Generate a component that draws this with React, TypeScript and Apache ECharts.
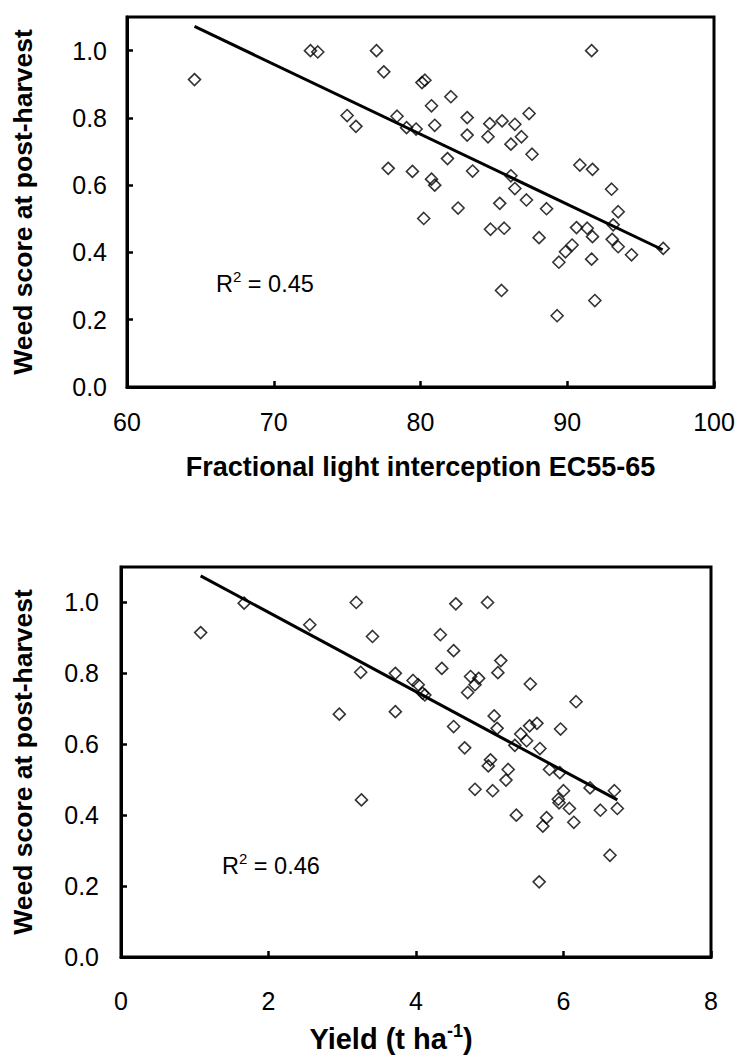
import React, { useEffect, useRef } from 'react';
import * as echarts from 'echarts';

// Top panel: fractional light interception vs weed score
const interception = [64.6, 72.5, 73.0, 77.0, 77.5, 80.1, 80.3, 80.75, 75.0, 75.6, 78.4, 79.05, 79.7, 80.97, 77.8, 79.45, 80.75, 80.97, 91.66, 82.07, 83.18, 83.18, 84.72, 84.6, 85.56, 86.43, 87.4, 86.88, 86.16, 87.6, 81.84, 83.55, 90.86, 91.72, 86.16, 86.43, 93.02, 87.22, 85.4, 82.56, 88.59, 93.47, 80.22, 84.77, 85.7, 88.08, 90.63, 91.36, 91.72, 93.13, 93.06, 93.47, 94.38, 96.54, 90.33, 89.88, 89.43, 91.66, 85.52, 91.88, 89.31];
const weedTop = [0.914, 1.0, 0.996, 1.0, 0.937, 0.905, 0.912, 0.836, 0.807, 0.775, 0.805, 0.771, 0.767, 0.778, 0.65, 0.641, 0.618, 0.6, 1.0, 0.863, 0.801, 0.749, 0.783, 0.744, 0.791, 0.781, 0.813, 0.744, 0.722, 0.692, 0.679, 0.642, 0.66, 0.647, 0.628, 0.59, 0.588, 0.556, 0.546, 0.532, 0.53, 0.521, 0.501, 0.469, 0.472, 0.444, 0.474, 0.472, 0.447, 0.482, 0.439, 0.417, 0.393, 0.412, 0.422, 0.402, 0.371, 0.38, 0.287, 0.257, 0.212];
const trendTopX = [64.6, 96.5];
const trendTopY = [1.072, 0.408];

// Bottom panel: yield vs weed score
const yieldT = [1.08, 1.67, 2.56, 3.19, 3.41, 4.33, 4.35, 3.25, 3.72, 3.96, 4.03, 4.09, 4.12, 2.96, 3.72, 4.54, 4.97, 4.51, 5.15, 5.11, 4.74, 4.85, 4.8, 4.7, 5.55, 6.17, 4.51, 5.06, 5.1, 5.54, 5.64, 5.96, 5.42, 5.5, 5.34, 5.68, 4.66, 5.01, 4.98, 5.25, 5.22, 4.8, 5.04, 5.81, 5.95, 6.0, 5.93, 5.94, 6.08, 6.36, 6.69, 6.73, 6.5, 6.14, 5.36, 5.77, 5.72, 6.63, 5.67, 3.26];
const weedBottom = [0.915, 0.998, 0.937, 1.0, 0.904, 0.909, 0.814, 0.803, 0.8, 0.78, 0.768, 0.744, 0.739, 0.685, 0.692, 0.996, 1.0, 0.864, 0.836, 0.802, 0.791, 0.786, 0.768, 0.746, 0.77, 0.72, 0.65, 0.68, 0.645, 0.652, 0.659, 0.643, 0.629, 0.61, 0.597, 0.588, 0.59, 0.556, 0.539, 0.529, 0.499, 0.473, 0.469, 0.529, 0.52, 0.469, 0.445, 0.435, 0.419, 0.477, 0.469, 0.419, 0.414, 0.38, 0.4, 0.393, 0.369, 0.287, 0.212, 0.443];
const trendBotX = [1.08, 6.73];
const trendBotY = [1.075, 0.443];

const r2Top = '0.45';
const r2Bottom = '0.46';

const FONT = '"Liberation Sans", Arial, Helvetica, sans-serif';

const zip = (xs: number[], ys: number[]) => xs.map((x, i) => [x, ys[i]]);

export default function App() {
  const ref = useRef<HTMLDivElement>(null);
  useEffect(() => {
    if (!ref.current) return;
    const chart = echarts.init(ref.current, null, { renderer: 'svg' });

    const yAxisBase = (gridIndex: number, gap: number, margin: number) => ({
      type: 'value',
      gridIndex,
      min: 0,
      max: 1.1,
      interval: 0.2,
      name: 'Weed score at post-harvest',
      nameLocation: 'middle',
      nameGap: gap,
      nameTextStyle: { fontFamily: FONT, fontWeight: 'bold', fontSize: 26.5, color: '#000' },
      axisLine: { show: true, lineStyle: { color: '#000', width: 3 } },
      axisTick: { show: true, inside: true, length: 6, lineStyle: { color: '#000', width: 2.5 } },
      axisLabel: {
        margin,
        fontFamily: FONT,
        fontSize: 25,
        color: '#000',
        showMaxLabel: false,
        formatter: (v: number) => (v > 1.05 ? '' : v.toFixed(1)),
      },
      splitLine: { show: false },
    });

    const xAxisBase = (gridIndex: number, min: number, max: number, interval: number, margin: number) => ({
      type: 'value',
      gridIndex,
      min,
      max,
      interval,
      axisLine: { show: true, onZero: false, lineStyle: { color: '#000', width: 3 } },
      axisTick: { show: true, inside: true, length: 6, lineStyle: { color: '#000', width: 2.5 } },
      axisLabel: { margin, fontFamily: FONT, fontSize: 25, color: '#000' },
      splitLine: { show: false },
    });

    const scatterStyle = {
      type: 'scatter',
      symbol: 'diamond',
      symbolSize: 12,
      itemStyle: { color: 'rgba(0,0,0,0)', borderColor: '#000', borderWidth: 1.6 },
      z: 3,
    };
    const lineStyle = {
      type: 'line',
      symbol: 'none',
      lineStyle: { color: '#000', width: 3 },
      z: 2,
    };

    const r2Rich = {
      m: { fontFamily: FONT, fontSize: 23.5, fill: '#000', lineHeight: 30 },
      s: { fontFamily: FONT, fontSize: 15, fill: '#000', lineHeight: 16, verticalAlign: 'top' },
    };

    chart.setOption({
      animation: false,
      backgroundColor: '#fff',
      grid: [
        { left: 127, top: 17, width: 587, height: 370, show: true, borderColor: '#000', borderWidth: 3, backgroundColor: 'transparent' },
        { left: 121, top: 567, width: 590, height: 390, show: true, borderColor: '#000', borderWidth: 3, backgroundColor: 'transparent' },
      ],
      xAxis: [
        {
          ...xAxisBase(0, 60, 100, 10, 22),
          name: 'Fractional light interception EC55-65',
          nameLocation: 'middle',
          nameGap: 66,
          nameTextStyle: { fontFamily: FONT, fontWeight: 'bold', fontSize: 27, color: '#000', verticalAlign: 'top' },
        },
        {
          ...xAxisBase(1, 0, 8, 2, 31),
          name: '{b|Yield (t ha}{s|-1}{b|)}',
          nameLocation: 'middle',
          nameGap: 65,
          nameTextStyle: {
            color: '#000',
            verticalAlign: 'top',
            padding: [0, 50, 0, 0],
            rich: {
              b: { fontFamily: FONT, fontWeight: 'bold', fontSize: 29, color: '#000', lineHeight: 34 },
              s: { fontFamily: FONT, fontWeight: 'bold', fontSize: 18, color: '#000', lineHeight: 18, verticalAlign: 'top' },
            },
          },
        },
      ],
      yAxis: [yAxisBase(0, 91, 20), yAxisBase(1, 85, 22)],
      graphic: [
        {
          type: 'text',
          left: 216,
          top: 269,
          style: { text: '{m|R}{s|2}{m| = ' + r2Top + '}', rich: r2Rich },
        },
        {
          type: 'text',
          left: 222,
          top: 851,
          style: { text: '{m|R}{s|2}{m| = ' + r2Bottom + '}', rich: r2Rich },
        },
      ],
      series: [
        { ...scatterStyle, xAxisIndex: 0, yAxisIndex: 0, data: zip(interception, weedTop) },
        { ...lineStyle, xAxisIndex: 0, yAxisIndex: 0, data: zip(trendTopX, trendTopY) },
        { ...scatterStyle, xAxisIndex: 1, yAxisIndex: 1, data: zip(yieldT, weedBottom) },
        { ...lineStyle, xAxisIndex: 1, yAxisIndex: 1, data: zip(trendBotX, trendBotY) },
      ],
    });
    return () => chart.dispose();
  }, []);

  return (
    <div
      ref={ref}
      style={{ position: 'absolute', left: 0, top: 0, width: 738, height: 1055, background: '#fff' }}
    />
  );
}
